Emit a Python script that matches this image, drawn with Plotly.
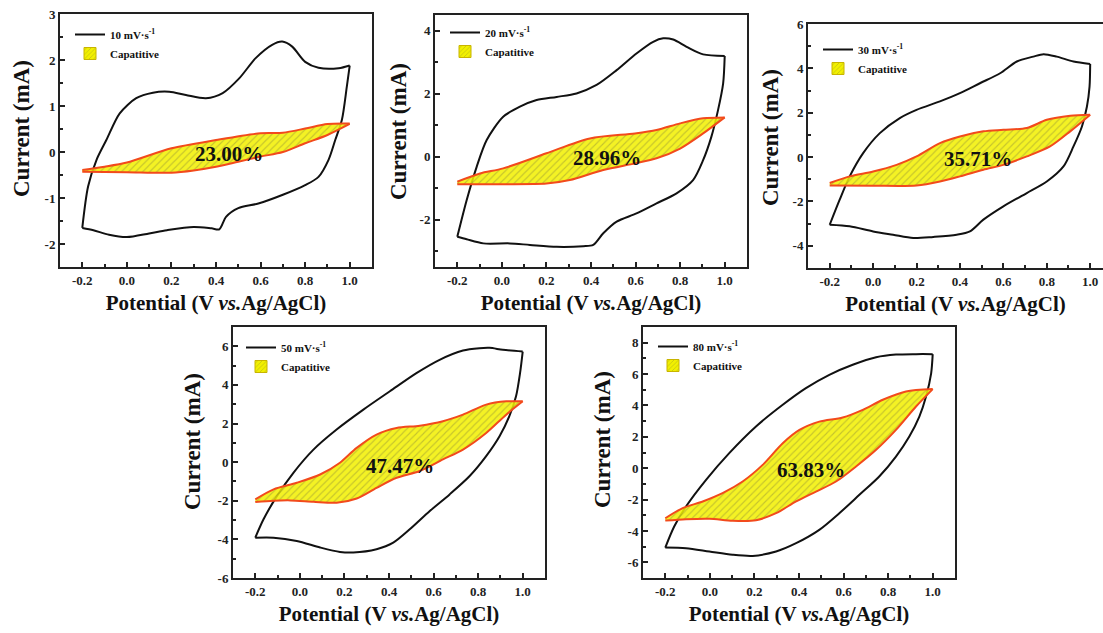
import plotly.graph_objects as go

W, H = 1103, 633

# ---------------- tick labels ----------------
X_TICKS = [-0.2, 0.0, 0.2, 0.4, 0.6, 0.8, 1.0]
X_TICK_TEXT = ["-0.2", "0.0", "0.2", "0.4", "0.6", "0.8", "1.0"]

Y_TICKS_10 = [-2, -1, 0, 1, 2, 3]
Y_TICKS_20 = [-2, 0, 2, 4]
Y_TICKS_30 = [-4, -2, 0, 2, 4, 6]
Y_TICKS_50 = [-6, -4, -2, 0, 2, 4, 6]
Y_TICKS_80 = [-6, -4, -2, 0, 2, 4, 6, 8]

# ---------------- 10 mV/s ----------------
RATE_10 = "10 mV·s<sup>-1</sup>"
CV10_FWD_V = [-0.2, -0.174, -0.136, -0.092, -0.032, 0.042, 0.117, 0.19, 0.265, 0.355, 0.43, 0.504, 0.578, 0.652, 0.697, 0.742, 0.80, 0.86, 0.95, 1.0]
CV10_FWD_I = [-1.65, -0.75, -0.17, 0.26, 0.84, 1.17, 1.29, 1.31, 1.24, 1.17, 1.28, 1.60, 2.04, 2.33, 2.40, 2.29, 1.96, 1.83, 1.82, 1.88]
CV10_REV_V = [1.0, 0.987, 0.965, 0.935, 0.905, 0.86, 0.80, 0.70, 0.59, 0.50, 0.445, 0.415, 0.38, 0.30, 0.18, 0.10, 0.0, -0.08, -0.15, -0.2]
CV10_REV_I = [1.88, 1.42, 0.70, 0.26, -0.17, -0.54, -0.72, -0.93, -1.12, -1.22, -1.41, -1.68, -1.66, -1.63, -1.70, -1.77, -1.85, -1.80, -1.70, -1.65]
CAP10_UP_V = [-0.2, -0.1, 0.0, 0.2, 0.4, 0.6, 0.7, 0.8, 0.9, 1.0]
CAP10_UP_I = [-0.39, -0.32, -0.23, 0.08, 0.26, 0.41, 0.42, 0.51, 0.61, 0.62]
CAP10_LO_V = [-0.2, 0.0, 0.2, 0.3, 0.4, 0.5, 0.6, 0.7, 0.8, 0.9, 1.0]
CAP10_LO_I = [-0.43, -0.44, -0.45, -0.40, -0.32, -0.21, -0.10, 0.0, 0.19, 0.37, 0.61]
PCT_10 = "23.00%"

# ---------------- 20 mV/s ----------------
RATE_20 = "20 mV·s<sup>-1</sup>"
CV20_FWD_V = [-0.2, -0.158, -0.113, -0.068, 0.006, 0.081, 0.156, 0.246, 0.335, 0.425, 0.515, 0.604, 0.679, 0.724, 0.769, 0.829, 0.903, 1.0]
CV20_FWD_I = [-2.54, -1.38, -0.32, 0.53, 1.27, 1.59, 1.80, 1.90, 2.01, 2.28, 2.75, 3.28, 3.65, 3.76, 3.72, 3.49, 3.25, 3.20]
CV20_REV_V = [1.0, 0.993, 0.97, 0.94, 0.903, 0.858, 0.784, 0.694, 0.604, 0.515, 0.455, 0.41, 0.365, 0.246, 0.126, 0.036, -0.083, -0.158, -0.2]
CV20_REV_I = [3.20, 2.33, 1.48, 0.63, -0.11, -0.74, -1.16, -1.48, -1.80, -2.06, -2.43, -2.80, -2.84, -2.86, -2.80, -2.75, -2.75, -2.62, -2.54]
CAP20_UP_V = [-0.2, -0.098, 0.006, 0.2, 0.395, 0.597, 0.694, 0.80, 0.903, 1.0]
CAP20_UP_I = [-0.79, -0.53, -0.37, 0.11, 0.58, 0.74, 0.85, 1.06, 1.22, 1.25]
CAP20_LO_V = [-0.2, 0.006, 0.2, 0.305, 0.455, 0.597, 0.694, 0.80, 0.903, 1.0]
CAP20_LO_I = [-0.87, -0.87, -0.85, -0.74, -0.42, -0.21, -0.05, 0.26, 0.74, 1.25]
PCT_20 = "28.96%"

# ---------------- 30 mV/s ----------------
RATE_30 = "30 mV·s<sup>-1</sup>"
CV30_FWD_V = [-0.2, -0.154, -0.108, -0.046, 0.031, 0.123, 0.2, 0.308, 0.4, 0.492, 0.585, 0.662, 0.738, 0.785, 0.846, 0.923, 1.0]
CV30_FWD_I = [-3.05, -1.92, -0.87, 0.18, 1.08, 1.76, 2.13, 2.51, 2.88, 3.33, 3.78, 4.31, 4.53, 4.64, 4.53, 4.31, 4.20]
CV30_REV_V = [1.0, 0.997, 0.985, 0.962, 0.923, 0.877, 0.8, 0.708, 0.6, 0.508, 0.446, 0.385, 0.277, 0.185, 0.092, 0.0, -0.108, -0.2]
CV30_REV_I = [4.20, 3.18, 2.28, 1.38, 0.48, -0.42, -1.10, -1.62, -2.22, -2.82, -3.35, -3.50, -3.60, -3.65, -3.50, -3.35, -3.12, -3.05]
CAP30_UP_V = [-0.2, -0.108, 0.0, 0.108, 0.2, 0.308, 0.4, 0.508, 0.6, 0.708, 0.8, 0.908, 1.0]
CAP30_UP_I = [-1.17, -0.87, -0.65, -0.35, 0.03, 0.63, 0.93, 1.16, 1.23, 1.31, 1.68, 1.86, 1.91]
CAP30_LO_V = [-0.2, 0.0, 0.2, 0.308, 0.4, 0.508, 0.6, 0.708, 0.815, 0.908, 1.0]
CAP30_LO_I = [-1.28, -1.29, -1.28, -1.10, -0.87, -0.57, -0.35, 0.03, 0.48, 1.16, 1.91]
PCT_30 = "35.71%"

# ---------------- 50 mV/s ----------------
RATE_50 = "50 mV·s<sup>-1</sup>"
CV50_FWD_V = [-0.2, -0.163, -0.103, -0.029, 0.061, 0.165, 0.285, 0.404, 0.523, 0.627, 0.732, 0.806, 0.851, 0.911, 1.0]
CV50_FWD_I = [-3.91, -2.96, -1.76, -0.55, 0.65, 1.69, 2.72, 3.67, 4.61, 5.30, 5.78, 5.90, 5.92, 5.82, 5.73]
CV50_REV_V = [1.0, 0.988, 0.97, 0.94, 0.896, 0.836, 0.762, 0.672, 0.583, 0.493, 0.419, 0.344, 0.24, 0.18, 0.091, -0.014, -0.118, -0.2]
CV50_REV_I = [5.73, 4.61, 3.41, 2.38, 1.34, 0.31, -0.72, -1.67, -2.53, -3.48, -4.17, -4.51, -4.68, -4.65, -4.42, -4.08, -3.91, -3.91]
CAP50_UP_V = [-0.2, -0.118, -0.014, 0.091, 0.18, 0.255, 0.344, 0.434, 0.538, 0.642, 0.732, 0.836, 0.926, 1.0]
CAP50_UP_I = [-1.93, -1.41, -1.07, -0.64, -0.03, 0.74, 1.43, 1.77, 1.89, 2.12, 2.46, 2.98, 3.15, 3.15]
CAP50_LO_V = [-0.2, -0.118, -0.043, 0.061, 0.165, 0.255, 0.344, 0.434, 0.538, 0.642, 0.732, 0.836, 0.926, 1.0]
CAP50_LO_I = [-2.07, -2.00, -1.98, -2.05, -2.10, -1.88, -1.33, -0.81, -0.46, 0.14, 0.65, 1.51, 2.46, 3.15]
PCT_50 = "47.47%"

# ---------------- 80 mV/s ----------------
RATE_80 = "80 mV·s<sup>-1</sup>"
CV80_FWD_V = [-0.2, -0.16, -0.107, -0.017, 0.087, 0.207, 0.327, 0.431, 0.536, 0.641, 0.746, 0.835, 0.925, 1.0]
CV80_FWD_I = [-5.06, -3.72, -2.44, -0.74, 0.96, 2.66, 4.04, 5.10, 5.95, 6.59, 7.07, 7.24, 7.27, 7.27]
CV80_REV_V = [1.0, 0.993, 0.97, 0.94, 0.895, 0.835, 0.76, 0.671, 0.581, 0.491, 0.387, 0.297, 0.192, 0.102, -0.002, -0.107, -0.2]
CV80_REV_I = [7.27, 6.05, 4.57, 3.29, 2.02, 0.74, -0.53, -1.70, -2.87, -3.93, -4.78, -5.31, -5.59, -5.52, -5.31, -5.10, -5.06]
CAP80_UP_V = [-0.2, -0.122, -0.032, 0.057, 0.147, 0.237, 0.327, 0.402, 0.491, 0.596, 0.686, 0.776, 0.88, 1.0]
CAP80_UP_I = [-3.19, -2.55, -2.12, -1.59, -0.85, 0.21, 1.59, 2.44, 2.97, 3.23, 3.72, 4.36, 4.89, 5.04]
CAP80_LO_V = [-0.2, -0.107, -0.002, 0.102, 0.207, 0.297, 0.387, 0.476, 0.566, 0.656, 0.746, 0.835, 0.925, 1.0]
CAP80_LO_I = [-3.34, -3.25, -3.22, -3.35, -3.32, -2.87, -2.12, -1.49, -0.85, 0.11, 1.17, 2.44, 3.93, 5.04]
PCT_80 = "63.83%"

CAP_NAME = "Capatitive"
X_TITLE = "Potential (V <i>vs.</i>Ag/AgCl)"
Y_TITLE = "Current (mA)"

# ---------------- styling ----------------
FONT = "Liberation Serif, Times New Roman, serif"
CV_COLOR = "#111111"
EDGE_COLOR = "#f24a1c"
FILL_BG = "rgba(242,240,0,0.86)"
HATCH_FG = "rgba(120,120,60,0.75)"
SWATCH_EDGE = "#c8b400"


def px_x(p):
    return p / W


def px_y(p):
    return 1 - p / H


# layout of each panel in pixel space (left, right, top, bottom)
panels = [
    dict(rate=RATE_10, fwd=(CV10_FWD_V, CV10_FWD_I), rev=(CV10_REV_V, CV10_REV_I),
         up=(CAP10_UP_V, CAP10_UP_I), lo=(CAP10_LO_V, CAP10_LO_I), pct=PCT_10,
         box=(60, 372, 14, 267), xr=(-0.3, 1.1), yr=(-2.5, 3), yt=Y_TICKS_10, ymin=0.5,
         lab=(0.46, -0.05), leg=(70, 20), ytl=(21, 129), right=True),
    dict(rate=RATE_20, fwd=(CV20_FWD_V, CV20_FWD_I), rev=(CV20_REV_V, CV20_REV_I),
         up=(CAP20_UP_V, CAP20_UP_I), lo=(CAP20_LO_V, CAP20_LO_I), pct=PCT_20,
         box=(435, 747, 15, 267), xr=(-0.3, 1.1), yr=(-3.5, 4.5), yt=Y_TICKS_20, ymin=1,
         lab=(0.47, -0.05), leg=(445, 18), ytl=(399, 132), right=True),
    dict(rate=RATE_30, fwd=(CV30_FWD_V, CV30_FWD_I), rev=(CV30_REV_V, CV30_REV_I),
         up=(CAP30_UP_V, CAP30_UP_I), lo=(CAP30_LO_V, CAP30_LO_I), pct=PCT_30,
         box=(808, 1103, 24, 268), xr=(-0.3, 1.059), yr=(-5, 6), yt=Y_TICKS_30, ymin=1,
         lab=(0.485, -0.09), leg=(818, 35), ytl=(770, 138), right=False),
    dict(rate=RATE_50, fwd=(CV50_FWD_V, CV50_FWD_I), rev=(CV50_REV_V, CV50_REV_I),
         up=(CAP50_UP_V, CAP50_UP_I), lo=(CAP50_LO_V, CAP50_LO_I), pct=PCT_50,
         box=(233, 545, 327, 578), xr=(-0.3, 1.1), yr=(-6, 7), yt=Y_TICKS_50, ymin=1,
         lab=(0.448, -0.2), leg=(241, 333), ytl=(192, 442), right=True),
    dict(rate=RATE_80, fwd=(CV80_FWD_V, CV80_FWD_I), rev=(CV80_REV_V, CV80_REV_I),
         up=(CAP80_UP_V, CAP80_UP_I), lo=(CAP80_LO_V, CAP80_LO_I), pct=PCT_80,
         box=(643, 955, 327, 578), xr=(-0.3, 1.1), yr=(-7, 9), yt=Y_TICKS_80, ymin=1,
         lab=(0.454, -0.1), leg=(653, 332), ytl=(602, 440), right=True),
]

fig = go.Figure()
layout = dict(
    width=W, height=H,
    margin=dict(l=0, r=0, t=0, b=0),
    paper_bgcolor="white", plot_bgcolor="white",
    font=dict(family=FONT, color="#111111"),
    showlegend=True,
    annotations=[],
)

tick_font = dict(family=FONT, size=13, color="#222222", weight="bold")
x_title_font = dict(family=FONT, size=21, color="#111111", weight="bold")
y_title_font = dict(family=FONT, size=23, color="#111111", weight="bold")
hatch = dict(shape="/", fgcolor=HATCH_FG, bgcolor=FILL_BG, size=5, solidity=0.22)

for i, p in enumerate(panels, start=1):
    sx = "" if i == 1 else str(i)
    xa, ya = "x" + sx, "y" + sx
    lg = "legend" + sx
    l, r, t, b = p["box"]

    # cyclic voltammogram: anodic and cathodic branches
    fig.add_trace(go.Scatter(
        x=p["fwd"][0], y=p["fwd"][1], mode="lines", name=p["rate"],
        line=dict(color=CV_COLOR, width=2, shape="spline", smoothing=0.8),
        xaxis=xa, yaxis=ya, legend=lg, legendgroup="cv" + sx, showlegend=True))
    fig.add_trace(go.Scatter(
        x=p["rev"][0], y=p["rev"][1], mode="lines", name=p["rate"],
        line=dict(color=CV_COLOR, width=2, shape="spline", smoothing=0.8),
        xaxis=xa, yaxis=ya, legend=lg, legendgroup="cv" + sx, showlegend=False))

    # capacitive contribution: lower edge, then upper edge filled down to it
    fig.add_trace(go.Scatter(
        x=p["lo"][0], y=p["lo"][1], mode="lines", name=CAP_NAME,
        line=dict(color=EDGE_COLOR, width=2, shape="spline", smoothing=0.8),
        xaxis=xa, yaxis=ya, legend=lg, legendgroup="cap" + sx, showlegend=False))
    fig.add_trace(go.Scatter(
        x=p["up"][0], y=p["up"][1], mode="lines", name=CAP_NAME,
        line=dict(color=EDGE_COLOR, width=2, shape="spline", smoothing=0.8),
        fill="tonexty", fillcolor=FILL_BG, fillpattern=hatch,
        xaxis=xa, yaxis=ya, legend=lg, legendgroup="cap" + sx, showlegend=False))

    # legend key for the hatched capacitive area (a box swatch; the null bar draws nothing)
    fig.add_trace(go.Bar(
        x=[None], y=[None], name=CAP_NAME, hoverinfo="skip",
        marker=dict(color="rgb(242,240,0)",
                    pattern=dict(shape="/", fgcolor=HATCH_FG, bgcolor="rgb(242,240,0)", size=4, solidity=0.25),
                    line=dict(color=SWATCH_EDGE, width=1)),
        xaxis=xa, yaxis=ya, legend=lg, legendgroup="cap" + sx, showlegend=True))

    layout["xaxis" + sx] = dict(
        domain=[px_x(l), px_x(r)], range=list(p["xr"]), anchor=ya,
        showline=True, linecolor="#222222", linewidth=2, mirror=True,
        ticks="inside", ticklen=5, tickwidth=2, tickcolor="#222222",
        tickmode="array", tickvals=X_TICKS, ticktext=X_TICK_TEXT,
        minor=dict(ticks="inside", ticklen=3, tickwidth=1.5, tickcolor="#222222",
                   tickmode="linear", tick0=-0.3, dtick=0.1),
        tickfont=tick_font, showgrid=False, zeroline=False, automargin=False,
        title=dict(text=X_TITLE, font=x_title_font, standoff=9),
    )
    layout["yaxis" + sx] = dict(
        domain=[px_y(b), px_y(t)], range=list(p["yr"]), anchor=xa,
        showline=True, linecolor="#222222", linewidth=2, mirror=p["right"],
        ticks="inside", ticklen=5, tickwidth=2, tickcolor="#222222",
        tickmode="array", tickvals=p["yt"], ticktext=[str(v) for v in p["yt"]],
        minor=dict(ticks="inside", ticklen=3, tickwidth=1.5, tickcolor="#222222",
                   tickmode="linear", tick0=0, dtick=p["ymin"]),
        tickfont=tick_font, showgrid=False, zeroline=False, automargin=False,
    )
    # y-axis title, set as rotated text beside the axis
    layout["annotations"].append(dict(
        x=px_x(p["ytl"][0]), y=px_y(p["ytl"][1]), xref="paper", yref="paper",
        xanchor="center", yanchor="middle", textangle=-90, showarrow=False,
        text=Y_TITLE, font=y_title_font,
    ))
    layout[lg] = dict(
        x=px_x(p["leg"][0]), y=px_y(p["leg"][1]), xanchor="left", yanchor="top",
        bgcolor="rgba(0,0,0,0)", borderwidth=0, itemwidth=30,
        font=dict(family=FONT, size=11, color="#111111", weight="bold"),
        tracegroupgap=0,
    )
    layout["annotations"].append(dict(
        x=p["lab"][0], y=p["lab"][1], xref=xa, yref=ya, text=p["pct"], showarrow=False,
        font=dict(family=FONT, size=21, color="#111111", weight="bold"),
    ))

fig.update_layout(**layout)
fig.write_html("out.html")
